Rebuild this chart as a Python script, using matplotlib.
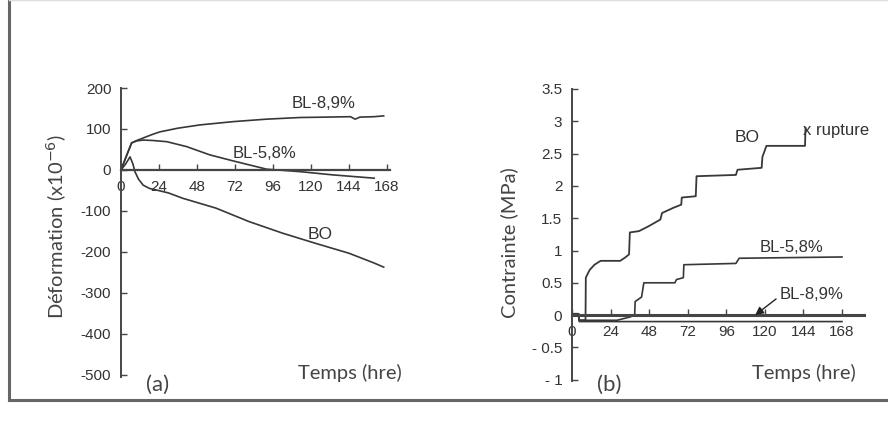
import matplotlib
matplotlib.use('Agg')
import matplotlib.pyplot as plt
from matplotlib.lines import Line2D

plt.rcParams['axes.unicode_minus'] = False
plt.rcParams['font.family'] = ['Liberation Sans', 'DejaVu Sans']

# (a) deformation vs time
t_bl89_a = [0, 3, 6.7, 10, 14, 20, 24.6, 36, 50, 71, 92, 113, 130, 145, 148, 151, 160, 166]
d_bl89_a = [0, 30, 66, 72, 78, 87, 93, 102, 110, 118, 124, 128, 129, 130, 124, 129, 130, 132]
t_bl58_a = [0, 3, 6.7, 10, 14, 20, 29, 41.5, 56, 71, 92, 113, 134, 160]
d_bl58_a = [0, 30, 66, 71, 73, 72, 69, 57, 37, 22, 2, -4, -12, -20]
t_bo_a = [0, 3, 5.7, 7.5, 8.8, 11, 14, 18, 22.5, 30, 39, 60, 81, 102, 123, 144, 160, 166]
d_bo_a = [0, 15, 32, 15, -4, -22, -37, -45, -49, -56, -69, -93, -126, -154, -179, -203, -227, -237]

# (b) stress vs time
t_bo_b = [0, 4, 4.5, 8.4, 8.6, 11, 14, 17.8, 30, 33, 35.5, 36, 41.7, 48, 55, 56, 63, 68, 68.3,
          77, 77.5, 102, 103, 118, 118.5, 121, 145, 145.3]
s_bo_b = [0.02, 0.02, -0.08, -0.08, 0.58, 0.7, 0.78, 0.84, 0.84, 0.89, 0.94, 1.28, 1.3, 1.38,
          1.48, 1.58, 1.66, 1.71, 1.82, 1.84, 2.15, 2.17, 2.25, 2.28, 2.45, 2.62, 2.62, 2.9]
t_bl58_b = [0, 4, 4.5, 28, 36, 39, 39.3, 43.3, 44.7, 64, 65, 69.3, 69.6, 102, 104, 168]
s_bl58_b = [0.02, 0.02, -0.08, -0.08, -0.03, 0.0, 0.21, 0.28, 0.5, 0.5, 0.55, 0.58, 0.78, 0.8, 0.88, 0.9]
t_bl89_b = [0, 4, 4.5, 168]
s_bl89_b = [0.02, 0.02, -0.1, -0.1]

xticks = [0, 24, 48, 72, 96, 120, 144, 168]
yticks_a = [200, 100, 0, -100, -200, -300, -400, -500]
ylabels_a = ['200', '100', '0', '-100', '-200', '-300', '-400', '-500']
yticks_b = [3.5, 3, 2.5, 2, 1.5, 1, 0.5, 0, -0.5, -1]
ylabels_b = ['3.5', '3', '2.5', '2', '1.5', '1', '0.5', '0', '- 0.5', '- 1']

LC = '#383838'
AX = '#454545'
TC = '#333333'
W, H = 888, 423

fig = plt.figure(figsize=(8.88, 4.23), dpi=100)
fig.patch.set_facecolor('white')

# outer frame
fig.add_artist(Line2D([9/W, 9/W], [1, 1-400/H], color='#666666', lw=2.2))
fig.add_artist(Line2D([9/W, 1], [1-400/H, 1-400/H], color='#666666', lw=2.2))
fig.add_artist(Line2D([9/W, 1], [0.999, 0.999], color='#dddddd', lw=1))

def style(ax):
    for s in ['top', 'right']:
        ax.spines[s].set_visible(False)
    ax.spines['bottom'].set_position(('data', 0))
    ax.spines['left'].set_color(AX)
    ax.spines['bottom'].set_color(AX)
    ax.spines['left'].set_linewidth(1.4)
    ax.tick_params(direction='in', length=4, width=1, colors=AX, labelcolor=TC,
                   labelsize=11)
    ax.tick_params(axis='x', pad=7)
    ax.tick_params(axis='y', pad=7)
    ax.patch.set_alpha(0)

ax1 = fig.add_axes([121/W, 1-377/H, 269/W, (377-88)/H])
ax1.plot(t_bl89_a, d_bl89_a, color=LC, lw=1.2)
ax1.plot(t_bl58_a, d_bl58_a, color=LC, lw=1.2)
ax1.plot(t_bo_a, d_bo_a, color=LC, lw=1.2)
ax1.set_xlim(0, 170)
ax1.set_ylim(-505, 200)
style(ax1)
ax1.spines['bottom'].set_linewidth(1.6)
ax1.set_xticks(xticks)
ax1.set_yticks(yticks_a, ylabels_a)
ax1.text(108, 163, 'BL-8,9%', fontsize=12, color=TC, va='center')
ax1.text(70.7, 41, 'BL-5,8%', fontsize=12, color=TC, va='center')
ax1.text(118, -158, 'BO', fontsize=12.5, color=TC, va='center')

ax2 = fig.add_axes([572/W, 1-381/H, 292/W, (381-89)/H])
ax2.plot(t_bo_b, s_bo_b, color=LC, lw=1.3)
ax2.plot(t_bl58_b, s_bl58_b, color=LC, lw=1.2)
ax2.plot(t_bl89_b, s_bl89_b, color=LC, lw=1.2)
ax2.set_xlim(0, 181.7)
ax2.set_ylim(-1.02, 3.5)
style(ax2)
ax2.spines['bottom'].set_linewidth(2.2)
ax2.set_xticks(xticks)
ax2.set_yticks(yticks_b, ylabels_b)
ax2.text(101.4, 2.75, 'BO', fontsize=12.5, color=TC, va='center')
ax2.text(143.5, 2.86, 'x rupture', fontsize=12, color=TC, va='center')
ax2.text(117, 1.05, 'BL-5,8%', fontsize=12, color=TC, va='center')
ax2.annotate('BL-8,9%', xy=(114, 0.0), xytext=(129.4, 0.32), fontsize=12, color=TC,
             va='center', ha='left',
             arrowprops=dict(arrowstyle='-|>', color='#222222', lw=1, shrinkA=1, shrinkB=0,
                             relpos=(0, 0.4), mutation_scale=12))

lab = dict(fontsize=14.5, color='#444444', family=['Lato', 'DejaVu Sans'])
fig.text(57/W, 1-227/H, 'Déformation (x10$^{-6}$)', rotation=90, ha='center', va='center', **lab)
fig.text(509/W, 1-243/H, 'Contrainte (MPa)', rotation=90, ha='center', va='center', **lab)
fig.text(350/W, 1-373/H, 'Temps (hre)', ha='center', va='center', **lab)
fig.text(804/W, 1-373/H, 'Temps (hre)', ha='center', va='center', **lab)
lab['fontsize'] = 16
fig.text(158/W, 1-385/H, '(a)', ha='center', va='center', **lab)
fig.text(609/W, 1-385/H, '(b)', ha='center', va='center', **lab)

fig.savefig('out.png', dpi=100)
plt.close(fig)
